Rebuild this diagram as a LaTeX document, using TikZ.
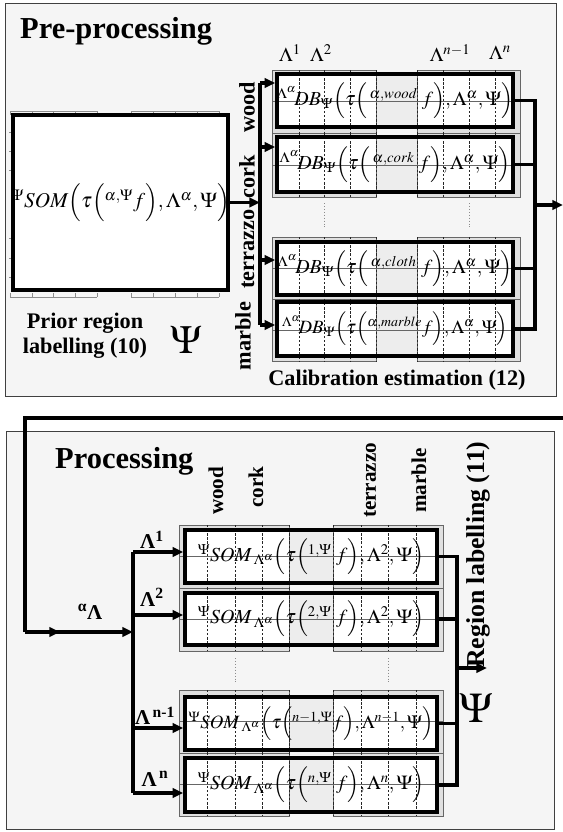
\documentclass[tikz,border=0pt]{standalone}
\usepackage{mathptmx}
\usepackage[no-math]{fontspec}
\setmainfont{Liberation Serif}
\usetikzlibrary{arrows.meta,positioning,fit}

\begin{document}
\begin{tikzpicture}[x=0.03cm, y=-0.03cm,
    panel/.style={draw=black!75, fill=black!4, line width=0.6pt},
    title/.style={font=\bfseries\fontsize{26}{30}\selectfont, inner sep=0pt},
    lbl/.style={font=\bfseries\fontsize{19}{21}\selectfont, align=center, inner sep=0pt},
    matlbl/.style={rotate=90, font=\bfseries\fontsize{19}{21}\selectfont, inner sep=0pt},
    boxframe/.style={draw, line width=3.2pt, inner sep=0pt},
    cell/.style={draw=black!60, line width=0.4pt},
    celldash/.style={black!85, line width=0.4pt, dash pattern=on 2pt off 1.5pt},
    dotline/.style={black!45, line width=0.5pt, dotted},
    formula/.style={font=\fontsize{17}{19}\selectfont, inner sep=0pt},
    bus/.style={line width=3pt},
    flow/.style={line width=3pt, -{Triangle[length=9pt,width=8pt]}}
  ]
  \useasboundingbox (0,0) rectangle (563,832);

  % Pre-processing panel
  \draw[panel] (5,3) rectangle (556,396);
  \node[title, anchor=base west] (pretitle) at (20,38) {Pre-processing};

  % prior region labelling box
  \draw[black!45] (10,111) -- (97,111) (131,111) -- (219,111);
  \draw[black!45] (10,297) -- (97,297) (131,297) -- (219,297);
  \foreach \x in {10,32,53,75,97,131,153,175,197,219}
    \draw[black!45] (\x,111) -- (\x,115) (\x,293) -- (\x,297);
  \foreach \y in {132,151,170,238,258,277}
    \draw[black!45] (9,\y) -- (15,\y);
  \node[boxframe, fill=white, fit={(13,115) (228,290)}] (som) {};
  \node[formula, font=\fontsize{18}{20}\selectfont] (somtext) at (som.center)
    {${}^{\Psi}SOM\Bigl(\tau\Bigl({}^{\alpha,\Psi}f\Bigr),\Lambda^{\alpha},\Psi\Bigr)$};
  \node[lbl] (priorlbl) at (85,336) {Prior region\\labelling (10)};
  \node[font=\fontsize{34}{36}\selectfont] (psitop) at (186,340) {$\Psi$};

  % material labels
  \node[matlbl] (lwood) at (247,107) {wood};
  \node[matlbl] (lcork) at (247,177) {cork};
  \node[matlbl] (lterrazzo) at (248,249) {terrazzo};
  \node[matlbl] (lmarble) at (243,336) {marble};

  % grid behind the calibration rows
  \foreach \ot/\ob/\it/\ib in {70/133/74/127, 133/197/137/192, 237/299/242/295, 299/361/302/356} {
    \fill[black!12] (272,\ot) rectangle (376,\ob);
    \fill[black!12] (417,\ot) rectangle (520,\ob);
    \fill[white] (277,\it) rectangle (513,\ib);
    \fill[black!7] (376,\it) rectangle (417,\ib);
    \draw[cell] (272,\ot) rectangle (376,\ob);
    \draw[cell] (417,\ot) rectangle (520,\ob);
    \draw[cell] (272,{(\ot+\ob)/2}) -- (520,{(\ot+\ob)/2});
    \foreach \x in {299,324,350,376,417,443,469,495}
      \draw[celldash] (\x,\ot) -- (\x,\ob);
  }
  \draw[dotline] (324,203) -- (324,228);
  \draw[dotline] (469,203) -- (469,228);

  % calibration rows
  \node[boxframe, fit={(277,74) (513,127)}] (dbwood) {};
  \node[boxframe, fit={(277,137) (513,192)}] (dbcork) {};
  \node[boxframe, fit={(277,242) (513,295)}] (dbcloth) {};
  \node[boxframe, fit={(277,302) (513,356)}] (dbmarble) {};
  \node[formula] at (dbwood.center)
    {${}^{\Lambda^{\alpha}}\!DB_{\Psi}\Bigl(\tau\Bigl(\,{}^{\alpha,wood}\;f\Bigr),\Lambda^{\alpha},\Psi\Bigr)$};
  \node[formula] at (dbcork.center)
    {${}^{\Lambda^{\alpha}}\!DB_{\Psi}\Bigl(\tau\Bigl(\,{}^{\alpha,cork}\;f\Bigr),\Lambda^{\alpha},\Psi\Bigr)$};
  \node[formula] at (dbcloth.center)
    {${}^{\Lambda^{\alpha}}\!DB_{\Psi}\Bigl(\tau\Bigl(\,{}^{\alpha,cloth}\;f\Bigr),\Lambda^{\alpha},\Psi\Bigr)$};
  \node[formula, font=\fontsize{16}{18}\selectfont] at (dbmarble.center)
    {${}^{\Lambda^{\alpha}}\!DB_{\Psi}\Bigl(\tau\Bigl({}^{\alpha,marble}f\Bigr),\Lambda^{\alpha},\Psi\Bigr)$};

  \node[font=\fontsize{17}{19}\selectfont, inner sep=0pt] (lam1) at (290,53) {$\Lambda^1$};
  \node[font=\fontsize{17}{19}\selectfont, inner sep=0pt] (lam2) at (321,53) {$\Lambda^2$};
  \node[font=\fontsize{17}{19}\selectfont, inner sep=0pt] (lamn1) at (450,53) {$\Lambda^{n-1}$};
  \node[font=\fontsize{17}{19}\selectfont, inner sep=0pt] (lamn) at (500,53) {$\Lambda^n$};
  \node[lbl] (calib) at (397,380) {Calibration estimation (12)};

  % connectors
  \coordinate (ibtop) at (260,83);
  \coordinate (tapcork) at (260,147);
  \coordinate (tapcloth) at (260,260);
  \coordinate (ibbot) at (260,325);
  \draw[bus] (ibtop) -- (ibbot);
  \draw[flow] (som.east) -- (som.east -| ibtop);
  \draw[flow] (ibtop) -- (ibtop -| dbwood.west);
  \draw[flow] (tapcork) -- (tapcork -| dbcork.west);
  \draw[flow] (tapcloth) -- (tapcloth -| dbcloth.west);
  \draw[flow] (ibbot) -- (ibbot -| dbmarble.west);
  \coordinate (obx) at (535,205);
  \coordinate (preout) at (563,205);
  \draw[bus] (dbwood.east) -| (obx);
  \draw[bus] (dbmarble.east) -| (obx);
  \draw[bus] (dbcork.east) -- (dbcork.east -| obx);
  \draw[bus] (dbcloth.east) -- (dbcloth.east -| obx);
  \draw[flow] (obx) -- (preout);

  % Processing panel
  \draw[panel] (6,431) rectangle (554,829);
  \node[title, anchor=base west] (protitle) at (55,468) {Processing};
  \node[matlbl, anchor=west, font=\bfseries\fontsize{18}{20}\selectfont] (pwood) at (216,515) {wood};
  \node[matlbl, anchor=west, font=\bfseries\fontsize{18}{20}\selectfont] (pcork) at (256,508) {cork};
  \node[matlbl, anchor=west, font=\bfseries\fontsize{18}{20}\selectfont] (pterrazzo) at (370,518) {terrazzo};
  \node[matlbl, anchor=west, font=\bfseries\fontsize{18}{20}\selectfont] (pmarble) at (419,513) {marble};
  \node[matlbl, anchor=west, font=\bfseries\fontsize{22}{24}\selectfont] (regionlbl) at (478,668) {Region labelling (11)};

  \foreach \ot/\ob/\it/\ib in {525/588/530/583, 588/651/593/645, 690/753/697/750, 753/816/758/812} {
    \fill[black!12] (179,\ot) rectangle (289,\ob);
    \fill[black!12] (333,\ot) rectangle (443,\ob);
    \fill[white] (185,\it) rectangle (437,\ib);
    \fill[black!7] (289,\it) rectangle (333,\ib);
    \draw[cell] (179,\ot) rectangle (289,\ob);
    \draw[cell] (333,\ot) rectangle (443,\ob);
    \draw[cell] (179,{(\ot+\ob)/2}) -- (443,{(\ot+\ob)/2});
    \foreach \x in {207,235,262,289,333,361,388,416}
      \draw[celldash] (\x,\ot) -- (\x,\ob);
  }
  \draw[dotline] (235,658) -- (235,682);
  \draw[dotline] (388,658) -- (388,682);

  \node[boxframe, fit={(185,530) (437,583)}] (som1) {};
  \node[boxframe, fit={(185,593) (437,645)}] (som2) {};
  \node[boxframe, fit={(185,697) (437,750)}] (somn1) {};
  \node[boxframe, fit={(185,758) (437,812)}] (somn) {};
  \node[formula] at (som1.center)
    {${}^{\Psi}SOM_{\;\Lambda^{\alpha}}\Bigl(\tau\Bigl({}^{1,\Psi}\;f\Bigr),\Lambda^{2},\Psi\Bigr)$};
  \node[formula] at (som2.center)
    {${}^{\Psi}SOM_{\;\Lambda^{\alpha}}\Bigl(\tau\Bigl({}^{2,\Psi}\;f\Bigr),\Lambda^{2},\Psi\Bigr)$};
  \node[formula, font=\fontsize{16}{18}\selectfont] at (somn1.center)
    {${}^{\Psi}SOM_{\;\Lambda^{\alpha}}\Bigl(\tau\Bigl({}^{n-1,\Psi}f\Bigr),\Lambda^{n-1},\Psi\Bigr)$};
  \node[formula] at (somn.center)
    {${}^{\Psi}SOM_{\;\Lambda^{\alpha}}\Bigl(\tau\Bigl({}^{n,\Psi}\;f\Bigr),\Lambda^{n},\Psi\Bigr)$};

  \node[lbl, font=\bfseries\fontsize{18}{20}\selectfont] (blam1) at (152,540) {Λ\textsuperscript{1}};
  \node[lbl, font=\bfseries\fontsize{18}{20}\selectfont] (blam2) at (152,597) {Λ\textsuperscript{2}};
  \node[lbl, font=\bfseries\fontsize{18}{20}\selectfont] (blamn1) at (155,716) {Λ\textsuperscript{\,n-1}};
  \node[lbl, font=\bfseries\fontsize{18}{20}\selectfont] (blamn) at (155,779) {Λ\textsuperscript{\,n}};
  \node[lbl, font=\bfseries\fontsize{18}{20}\selectfont] (alam) at (90,612) {\textsuperscript{α}Λ};
  \node[font=\fontsize{36}{38}\selectfont, inner sep=0pt] (psibot) at (476,708) {$\Psi$};

  % connectors
  \coordinate (tap1) at (133,552);
  \coordinate (tap2) at (133,615);
  \coordinate (tap3) at (133,728);
  \coordinate (tap4) at (133,793);
  \draw[bus] (tap1) -- (tap4);
  \draw[flow] (tap1) -- (tap1 -| som1.west);
  \draw[flow] (tap2) -- (tap2 -| som2.west);
  \draw[flow] (tap3) -- (tap3 -| somn1.west);
  \draw[flow] (tap4) -- (tap4 -| somn.west);
  \coordinate (rbx) at (457,668);
  \coordinate (regout) at (487,668);
  \draw[bus] (som1.east) -| (rbx);
  \draw[bus] (somn.east) -| (rbx);
  \draw[bus] (som2.east) -- (som2.east -| rbx);
  \draw[bus] (somn1.east) -- (somn1.east -| rbx);
  \draw[flow] (rbx) -- (regout);

  % feedback from pre-processing
  \coordinate (loopin) at (563,418);
  \coordinate (loopdown) at (25,632);
  \coordinate (lamin) at (133,632);
  \draw[bus] (loopin) -| (loopdown);
  \draw[flow] (loopdown) -- (lamin);
  \draw[flow] (loopdown) -- (60,632);
\end{tikzpicture}
\end{document}
